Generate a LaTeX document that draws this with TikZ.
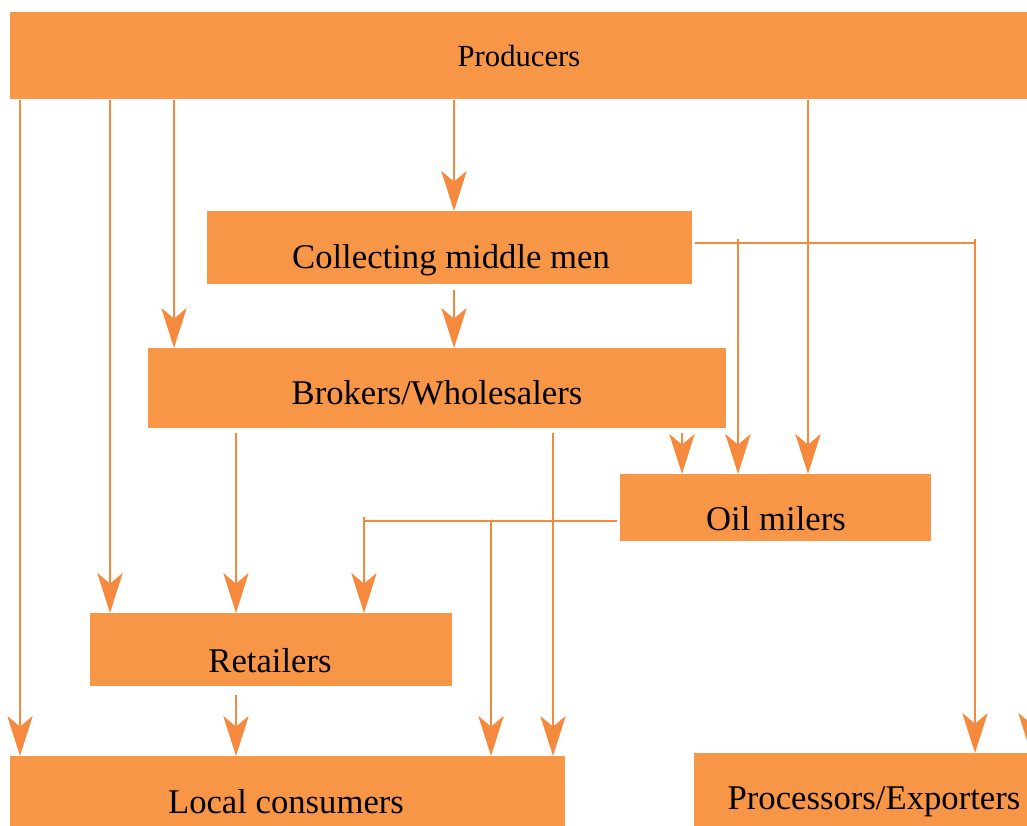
\documentclass[tikz,border=0pt]{standalone}
\usepackage{fontspec}
\setmainfont{Liberation Serif}
\usetikzlibrary{arrows.meta}
\definecolor{boxc}{HTML}{F79646}
\definecolor{linec}{HTML}{F58A3E}
\begin{document}
\begin{tikzpicture}[x=0.75pt,y=-0.75pt,
 box/.style={fill=boxc, draw=none, inner sep=0pt, anchor=north west},
 lbl/.style={font=\fontsize{26}{30}\selectfont, inner sep=0pt, anchor=base},
 arr/.style={draw=linec, line width=1.6pt, -{Stealth[length=30pt,width=19pt,inset=8pt]}},
 ln/.style={draw=linec, line width=1.6pt}]
\useasboundingbox (0,0) rectangle (1027,825);
% boxes
\node[box, minimum width=772.5pt, minimum height=65.25pt] (prod) at (10,12) {};
\node[box, minimum width=363.75pt, minimum height=54.75pt] (coll) at (207,211) {};
\node[box, minimum width=433.5pt, minimum height=60pt] (brok) at (148,348) {};
\node[box, minimum width=233.25pt, minimum height=50.25pt] (oil) at (620,474) {};
\node[box, minimum width=271.5pt, minimum height=54.75pt] (ret) at (90,613) {};
\node[box, minimum width=416.25pt, minimum height=60pt] (loc) at (10,756) {};
\node[box, minimum width=258.75pt, minimum height=62.25pt] (proc) at (694,753) {};
% labels
\node[lbl, font=\fontsize{23}{27}\selectfont] (tprod) at (519,66) {Producers};
\node[lbl] (tcoll) at (451,268) {Collecting middle men};
\node[lbl] (tbrok) at (437,404) {Brokers/Wholesalers};
\node[lbl] (toil) at (776,530) {Oil milers};
\node[lbl] (tret) at (270,672) {Retailers};
\node[lbl] (tloc) at (286,813) {Local consumers};
\node[lbl] (tproc) at (874,809) {Processors/Exporters};
% column coordinates
\coordinate (k20) at (20,0);
\coordinate (k110) at (110,0);
\coordinate (k174) at (174,0);
\coordinate (k236) at (236,0);
\coordinate (k364) at (364,0);
\coordinate (k454) at (454,0);
\coordinate (k491) at (491,0);
\coordinate (k553) at (553,0);
\coordinate (k682) at (682,0);
\coordinate (k738) at (738,0);
\coordinate (k808) at (808,0);
\coordinate (k975) at (975,0);
\coordinate (k1031) at (1031,0);
% junction coordinates
\coordinate (cj) at (695,243);
\coordinate (cj1) at (738,239);
\coordinate (cj2) at (975,239);
\coordinate (oj) at (617,521);
\coordinate (oj1) at (364,517);
\coordinate (oj2) at (491,521);
% from producers
\draw[arr] (prod.south -| k20) -- (loc.north -| k20);
\draw[arr] (prod.south -| k110) -- (ret.north -| k110);
\draw[arr] (prod.south -| k174) -- (brok.north -| k174);
\draw[arr] (prod.south -| k454) -- (coll.north -| k454);
\draw[arr] (prod.south -| k808) -- (oil.north -| k808);
\draw[arr] (prod.south -| k1031) -- (proc.north -| k1031);
% from collecting middle men
\draw[arr, shorten <=4pt] (coll.south -| k454) -- (brok.north -| k454);
\draw[ln] (cj) -- (975,243);
\draw[arr] (cj1) -- (oil.north -| k738);
\draw[arr] (cj2) -- (proc.north -| k975);
% from brokers
\draw[arr, shorten <=3pt] (brok.south -| k682) -- (oil.north -| k682);
\draw[arr, shorten <=3pt] (brok.south -| k236) -- (ret.north -| k236);
\draw[arr, shorten <=3pt] (brok.south -| k553) -- (loc.north -| k553);
% from oil milers
\draw[ln] (oj) -- (364,521);
\draw[arr] (oj1) -- (ret.north -| k364);
\draw[arr] (oj2) -- (loc.north -| k491);
% from retailers
\draw[arr, shorten <=6pt] (ret.south -| k236) -- (loc.north -| k236);
\end{tikzpicture}
\end{document}
